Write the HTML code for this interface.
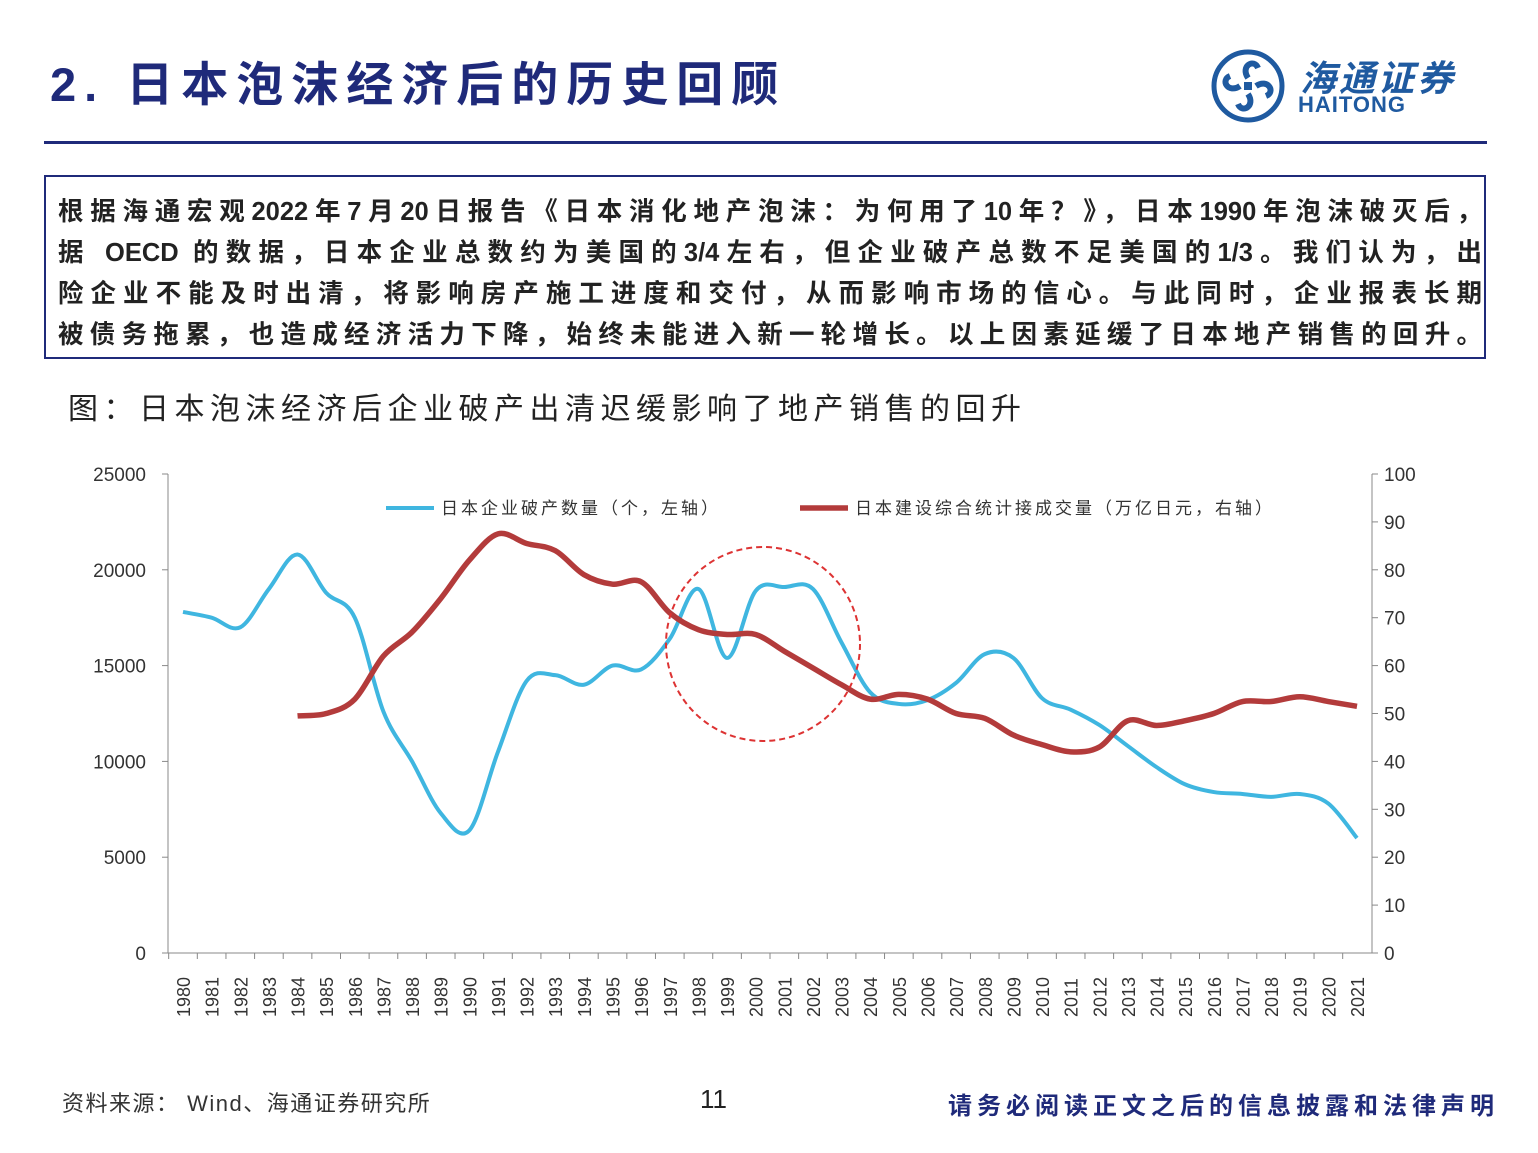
<!DOCTYPE html>
<html><head><meta charset="utf-8">
<style>
body{margin:0;width:1538px;height:1153px;background:#fff;position:relative;overflow:hidden;font-family:"Liberation Sans","Noto Sans CJK SC",sans-serif;}
.abs{position:absolute;white-space:nowrap;}
.ln{position:absolute;left:58px;width:1424px;font-size:25.5px;font-weight:bold;color:#222;text-align:justify;text-align-last:justify;white-space:nowrap;}
</style></head><body>
<div class="abs" style="left:50px;top:46px;font-size:47px;font-weight:bold;color:#1f2a7a;letter-spacing:8px;">2. 日本泡沫经济后的历史回顾</div>
<svg class="abs" style="left:1210px;top:48px" width="76" height="76" viewBox="0 0 76 76">
<circle cx="38" cy="38" r="34" fill="none" stroke="#1f5aa0" stroke-width="5"/>
<g fill="none" stroke="#1f5aa0" stroke-width="6">
<path d="M38 30 C30 18 44 10 48 20"/><path d="M46 38 C58 30 66 44 56 48"/><path d="M38 46 C46 58 32 66 28 56"/><path d="M30 38 C18 46 10 32 20 28"/></g>
<rect x="34" y="34" width="8" height="8" fill="#1f5aa0"/></svg>
<div class="abs" style="left:1300px;top:50px;font-size:36px;color:#1f5aa0;font-style:italic;font-weight:bold;letter-spacing:3px;">海通证券</div>
<div class="abs" style="left:1298px;top:92px;font-size:22px;color:#1f5aa0;font-weight:bold;letter-spacing:1px;">HAITONG</div>
<div class="abs" style="left:44px;top:141px;width:1443px;height:3px;background:#1f2a7a;"></div>
<div class="abs" style="left:44px;top:175px;width:1438px;height:180px;border:2px solid #1f2a7a;"></div>
<div class="ln" style="top:191px;">根据海通宏观2022年7月20日报告《日本消化地产泡沫：为何用了10年？》，日本1990年泡沫破灭后，</div>
<div class="ln" style="top:232px;">据 OECD 的数据，日本企业总数约为美国的3/4左右，但企业破产总数不足美国的1/3。我们认为，出</div>
<div class="ln" style="top:273px;">险企业不能及时出清，将影响房产施工进度和交付，从而影响市场的信心。与此同时，企业报表长期</div>
<div class="ln" style="top:314px;">被债务拖累，也造成经济活力下降，始终未能进入新一轮增长。以上因素延缓了日本地产销售的回升。</div>
<div class="abs" style="left:68px;top:384px;font-size:30px;color:#222;letter-spacing:5.5px;">图：日本泡沫经济后企业破产出清迟缓影响了地产销售的回升</div>
<svg class="abs" style="left:0;top:0" width="1538" height="1153" id="ch"></svg>
<div class="abs" style="left:62px;top:1086px;font-size:22px;color:#333;letter-spacing:1.5px;">资料来源：  Wind、海通证券研究所</div>
<div class="abs" style="left:700px;top:1084px;font-size:26px;color:#222;">11</div>
<div class="abs" style="left:948px;top:1086px;font-size:24px;font-weight:bold;color:#1f2a7a;letter-spacing:5px;">请务必阅读正文之后的信息披露和法律声明</div>
<script>
var s=document.getElementById('ch'),h='';
var X0=183,DX=(1357-183)/41,Y0=953,YT=474;
function yl(v){return Y0-(Y0-YT)*v/25000}function yr(v){return Y0-(Y0-YT)*v/100}
h+='<line x1="168" y1="474" x2="168" y2="953" stroke="#888"/><line x1="1372" y1="474" x2="1372" y2="953" stroke="#888"/><line x1="168" y1="953" x2="1372" y2="953" stroke="#888"/>';
for(var i=0;i<=5;i++){var y=yl(i*5000);h+='<line x1="162" y1="'+y+'" x2="168" y2="'+y+'" stroke="#888"/><text x="146" y="'+(y+7)+'" font-size="19" text-anchor="end" fill="#333">'+(i*5000)+'</text>';}
for(i=0;i<=10;i++){var y=yr(i*10);h+='<line x1="1372" y1="'+y+'" x2="1378" y2="'+y+'" stroke="#888"/><text x="1384" y="'+(y+7)+'" font-size="19" fill="#333">'+(i*10)+'</text>';}
for(i=0;i<42;i++){var x=X0+i*DX;h+='<line x1="'+(x-DX/2)+'" y1="953" x2="'+(x-DX/2)+'" y2="959" stroke="#888"/><text transform="translate('+(x+7)+',1017) rotate(-90)" font-size="18" fill="#333">'+(1980+i)+'</text>';}
var b=[17800,17500,17000,19000,20800,18800,17500,12600,10000,7300,6400,10500,14200,14500,14000,15000,14800,16400,19000,15400,18900,19100,19000,16200,13600,13000,13200,14100,15600,15400,13300,12700,11900,10800,9700,8800,8400,8300,8150,8300,7800,6000];
var r=[49.5,50,53,62,67,74,82,87.5,85.5,84,79,77,77.5,71,67.5,66.5,66.5,63,59.5,56,53,54,53,50,49,45.5,43.5,42,43,48.5,47.5,48.5,50,52.5,52.5,53.5,52.5,51.5];
function path(p){var d='M'+p[0][0]+' '+p[0][1];for(var i=0;i<p.length-1;i++){var a=p[i-1]||p[i],b=p[i],c=p[i+1],e=p[i+2]||c;d+=' C'+(b[0]+(c[0]-a[0])/6)+' '+(b[1]+(c[1]-a[1])/6)+' '+(c[0]-(e[0]-b[0])/6)+' '+(c[1]-(e[1]-b[1])/6)+' '+c[0]+' '+c[1];}return d;}
var pb=b.map(function(v,i){return[X0+i*DX,yl(v)]}),pr=r.map(function(v,i){return[X0+(i+4)*DX,yr(v)]});
h+='<path d="'+path(pb)+'" fill="none" stroke="#3fb6e0" stroke-width="4"/>';
h+='<path d="'+path(pr)+'" fill="none" stroke="#b33b3b" stroke-width="5.5"/>';
h+='<circle cx="763" cy="644" r="97" fill="none" stroke="#d33" stroke-width="2" stroke-dasharray="6,4"/>';
h+='<line x1="386" y1="508" x2="434" y2="508" stroke="#3fb6e0" stroke-width="4"/><text x="441" y="514" font-size="17" fill="#333" letter-spacing="3">日本企业破产数量（个，左轴）</text>';
h+='<line x1="800" y1="508" x2="848" y2="508" stroke="#b33b3b" stroke-width="5.5"/><text x="855" y="514" font-size="17" fill="#333" letter-spacing="3">日本建设综合统计接成交量（万亿日元，右轴）</text>';
s.innerHTML=h;
</script>
</body></html>
